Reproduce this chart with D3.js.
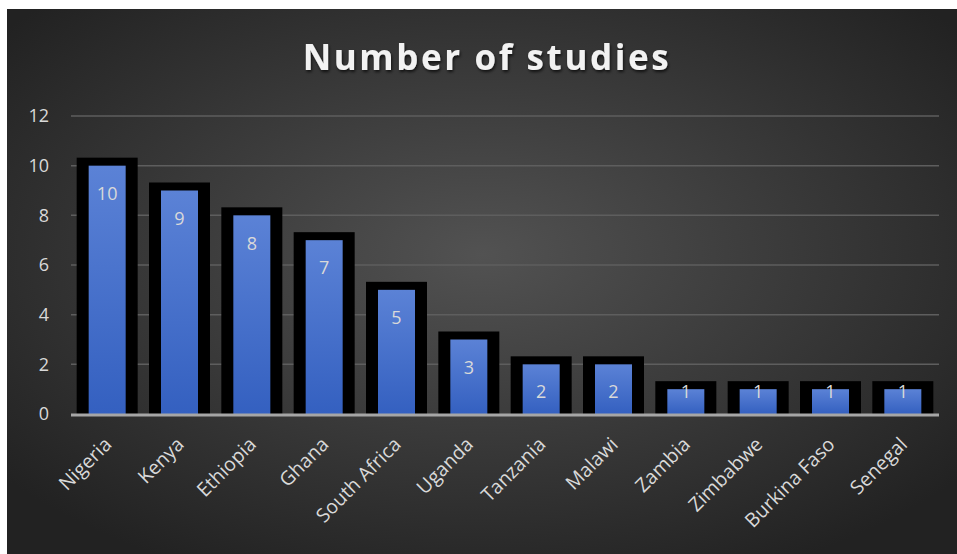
<!DOCTYPE html>
<html>
<head>
<meta charset="utf-8">
<script src="https://cdn.jsdelivr.net/npm/d3@7"></script>
<style>
  body { margin: 0; background: #fff; }
  svg { display: block; }
  text { font-family: "Open Sans", "Noto Sans", sans-serif; }
</style>
</head>
<body>
<div id="chart"></div>
<script>
const countries = ["Nigeria", "Kenya", "Ethiopia", "Ghana", "South Africa", "Uganda",
  "Tanzania", "Malawi", "Zambia", "Zimbabwe", "Burkina Faso", "Senegal"];
const studies = [10, 9, 8, 7, 5, 3, 2, 2, 1, 1, 1, 1];
const yTicks = [0, 2, 4, 6, 8, 10, 12];
const title = "Number of studies";

const width = 957, height = 554;
const margin = { left: 71, right: 18, top: 116, bottom: 140 };

const svg = d3.select("#chart").append("svg")
  .attr("width", width)
  .attr("height", height);

const defs = svg.append("defs");
const bg = defs.append("radialGradient").attr("id", "bg")
  .attr("cx", "50%").attr("cy", "45%").attr("r", "65%");
bg.append("stop").attr("offset", "0%").attr("stop-color", "#525252");
bg.append("stop").attr("offset", "100%").attr("stop-color", "#222222");

const blue = defs.append("linearGradient").attr("id", "blue")
  .attr("x1", 0).attr("y1", 0).attr("x2", 0).attr("y2", 1);
blue.append("stop").attr("offset", "0%").attr("stop-color", "#5b82d6");
blue.append("stop").attr("offset", "100%").attr("stop-color", "#3460c0");

const shadow = defs.append("filter").attr("id", "shadow")
  .attr("x", "-10%").attr("y", "-20%").attr("width", "120%").attr("height", "150%");
shadow.append("feDropShadow").attr("dx", 1).attr("dy", 2)
  .attr("stdDeviation", 1.5).attr("flood-color", "#000").attr("flood-opacity", 0.7);

svg.append("rect")
  .attr("x", 7).attr("y", 9)
  .attr("width", width - 7).attr("height", height - 9)
  .attr("fill", "url(#bg)");

const x = d3.scaleBand()
  .domain(countries)
  .range([margin.left, width - margin.right])
  .paddingInner(0)
  .paddingOuter(0);

const y = d3.scaleLinear()
  .domain([0, 12])
  .range([height - margin.bottom, margin.top]);

// title
svg.append("text")
  .attr("x", 487)
  .attr("y", 70)
  .attr("text-anchor", "middle")
  .attr("fill", "#f2f2f2")
  .attr("font-size", 35)
  .attr("font-weight", "bold")
  .attr("letter-spacing", 2.6)
  .attr("filter", "url(#shadow)")
  .text(title);

// gridlines
svg.append("g")
  .selectAll("line")
  .data(yTicks.filter(d => d > 0))
  .join("line")
  .attr("x1", margin.left)
  .attr("x2", width - margin.right)
  .attr("y1", d => y(d))
  .attr("y2", d => y(d))
  .attr("stroke", "#5e5e5e")
  .attr("stroke-width", 1.5);

// y axis labels
const yAxis = svg.append("g")
  .attr("transform", `translate(${margin.left - 22},0)`)
  .call(d3.axisLeft(y).tickValues(yTicks).tickSize(0).tickPadding(0));
yAxis.select(".domain").remove();
yAxis.selectAll("text")
  .attr("fill", "#d9d9d9")
  .attr("font-size", 18)
  .style("font-family", "Open Sans, Noto Sans, sans-serif");

// bars
const center = d => x(d) + x.bandwidth() / 2;
const bars = svg.append("g")
  .selectAll("g")
  .data(countries.map((c, i) => ({ c, v: studies[i] })))
  .join("g");

bars.append("rect")
  .attr("x", d => center(d.c) - 30.5)
  .attr("width", 61)
  .attr("y", d => y(d.v) - 8)
  .attr("height", d => y(0) - y(d.v) + 8)
  .attr("fill", "#000");

bars.append("rect")
  .attr("x", d => center(d.c) - 18.5)
  .attr("width", 37)
  .attr("y", d => y(d.v))
  .attr("height", d => y(0) - y(d.v))
  .attr("fill", "url(#blue)");

bars.append("text")
  .attr("x", d => center(d.c))
  .attr("y", d => Math.min(y(d.v) + 28, y(0) - 22))
  .attr("dy", "0.35em")
  .attr("text-anchor", "middle")
  .attr("fill", "#d9d9d9")
  .attr("font-size", 18)
  .text(d => d.v);

// baseline
svg.append("line")
  .attr("x1", margin.left)
  .attr("x2", width - margin.right)
  .attr("y1", y(0) + 1)
  .attr("y2", y(0) + 1)
  .attr("stroke", "#a6a6a6")
  .attr("stroke-width", 3);

// x labels
svg.append("g")
  .selectAll("text")
  .data(countries)
  .join("text")
  .attr("transform", d => `translate(${center(d) - 4},${y(0) + 22}) rotate(-45)`)
  .attr("text-anchor", "end")
  .attr("dy", "0.7em")
  .attr("fill", "#d9d9d9")
  .attr("font-size", 19.5)
  .text(d => d);
</script>
</body>
</html>
